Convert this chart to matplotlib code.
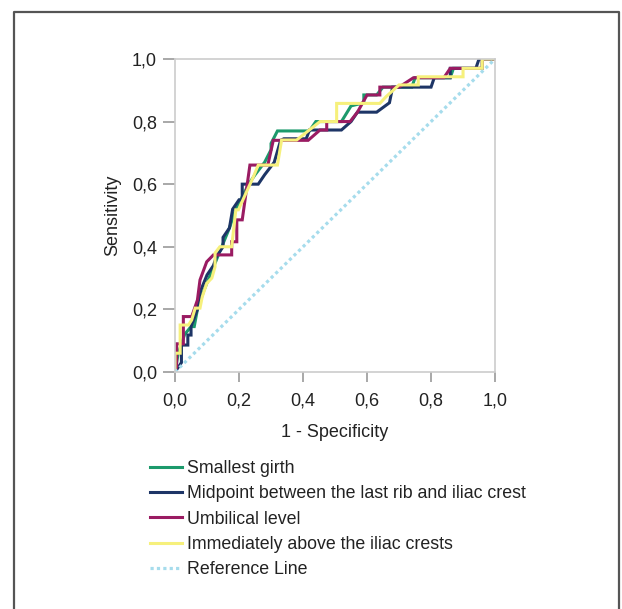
import matplotlib
import matplotlib.pyplot as plt
from matplotlib.lines import Line2D

matplotlib.use('Agg')

plt.rcParams['font.family'] = ['Liberation Sans', 'DejaVu Sans']

# ROC curves (1 - specificity, sensitivity)
girth_fpr = [0, 0.01, 0.02, 0.03, 0.05, 0.06, 0.07, 0.09, 0.11, 0.13, 0.15, 0.17, 0.19,
             0.21, 0.23, 0.25, 0.28, 0.30, 0.30, 0.32, 0.42, 0.44, 0.52, 0.55, 0.59,
             0.59, 0.63, 0.65, 0.74, 0.75, 0.86, 0.87, 0.96, 0.96, 1.0]
girth_tpr = [0, 0.06, 0.09, 0.12, 0.145, 0.145, 0.20, 0.26, 0.31, 0.36, 0.41, 0.46, 0.52,
             0.56, 0.60, 0.63, 0.67, 0.71, 0.73, 0.77, 0.77, 0.80, 0.80, 0.85, 0.86,
             0.885, 0.885, 0.91, 0.91, 0.94, 0.94, 0.97, 0.97, 1.0, 1.0]

mid_fpr = [0, 0.02, 0.02, 0.04, 0.04, 0.05, 0.05, 0.07, 0.08, 0.10, 0.12, 0.13, 0.15,
           0.15, 0.17, 0.18, 0.20, 0.21, 0.21, 0.26, 0.28, 0.31, 0.33, 0.34, 0.41,
           0.42, 0.52, 0.55, 0.57, 0.63, 0.67, 0.68, 0.80, 0.81, 0.86, 0.86, 0.94,
           0.95, 1.0]
mid_tpr = [0, 0.03, 0.086, 0.086, 0.118, 0.118, 0.145, 0.20, 0.26, 0.31, 0.34, 0.37, 0.40,
           0.43, 0.46, 0.52, 0.55, 0.55, 0.60, 0.60, 0.63, 0.67, 0.74, 0.745, 0.745,
           0.773, 0.773, 0.80, 0.83, 0.83, 0.86, 0.91, 0.91, 0.94, 0.94, 0.97, 0.97,
           1.0, 1.0]

umb_fpr = [0, 0.005, 0.005, 0.026, 0.026, 0.052, 0.06, 0.07, 0.078, 0.099, 0.12, 0.177,
           0.177, 0.193, 0.193, 0.21, 0.234, 0.29, 0.307, 0.416, 0.453, 0.474, 0.474,
           0.547, 0.57, 0.60, 0.64, 0.64, 0.70, 0.745, 0.84, 0.86, 0.96, 0.96, 1.0]
umb_tpr = [0, 0.017, 0.09, 0.09, 0.177, 0.177, 0.20, 0.23, 0.294, 0.352, 0.374, 0.374,
           0.416, 0.416, 0.486, 0.486, 0.661, 0.661, 0.74, 0.74, 0.773, 0.773, 0.80,
           0.80, 0.83, 0.885, 0.885, 0.91, 0.91, 0.94, 0.94, 0.97, 0.97, 1.0, 1.0]

iliac_fpr = [0, 0, 0.016, 0.016, 0.042, 0.052, 0.063, 0.078, 0.085, 0.099, 0.115, 0.125,
             0.125, 0.14, 0.177, 0.19, 0.198, 0.245, 0.26, 0.32, 0.333, 0.38, 0.453,
             0.505, 0.505, 0.64, 0.66, 0.70, 0.76, 0.76, 0.90, 0.90, 0.96, 0.96, 1.0]
iliac_tpr = [0, 0.06, 0.06, 0.15, 0.15, 0.166, 0.204, 0.204, 0.24, 0.283, 0.30, 0.336,
             0.38, 0.40, 0.40, 0.518, 0.518, 0.624, 0.661, 0.661, 0.741, 0.741, 0.80,
             0.80, 0.858, 0.858, 0.88, 0.917, 0.917, 0.943, 0.943, 0.97, 0.97, 1.0, 1.0]

labels = [
    'Smallest girth',
    'Midpoint between the last rib and iliac crest',
    'Umbilical level',
    'Immediately above the iliac crests',
    'Reference Line',
]
colors = ['#1c9a6c', '#1d3566', '#9a1b62', '#f6f07c', '#a6dcec']
ticks = [0.0, 0.2, 0.4, 0.6, 0.8, 1.0]
tick_labels = ['0,0', '0,2', '0,4', '0,6', '0,8', '1,0']

fig = plt.figure(figsize=(6.22, 6.09), dpi=100)
ax = fig.add_axes([0.2814, 0.3892, 0.5145, 0.514])

curves = [(girth_fpr, girth_tpr), (mid_fpr, mid_tpr), (umb_fpr, umb_tpr),
          (iliac_fpr, iliac_tpr)]
for (fpr, tpr), color, label in zip(curves, colors[:4], labels[:4]):
    ax.plot(fpr, tpr, color=color, lw=2.2, label=label, solid_joinstyle='miter')
ax.plot([0, 1], [0, 1], color=colors[4], lw=2.3, ls=(0, (1, 1)), label=labels[4])

ax.set_xlim(0, 1)
ax.set_ylim(0, 1)
ax.set_xticks(ticks)
ax.set_yticks(ticks)
ax.set_xticklabels(tick_labels)
ax.set_yticklabels(tick_labels)
for s in ax.spines.values():
    s.set_color('#cccccc')
    s.set_linewidth(1.2)
ax.tick_params(axis='both', colors='#999999', labelcolor='#222222', labelsize=13,
               width=1.2)
ax.tick_params(axis='x', length=7, pad=8)
ax.tick_params(axis='y', length=9, pad=4)
ax.set_xlabel('1 - Specificity', fontsize=13, color='#222222', labelpad=10)
ax.set_ylabel('Sensitivity', fontsize=13, color='#222222', labelpad=8)

handles, _ = ax.get_legend_handles_labels()
fig.legend(handles, labels, loc='upper left', bbox_to_anchor=(0.241, 0.245),
           frameon=False, fontsize=12.8, handlelength=1.8, handletextpad=0.3,
           labelspacing=0.47, borderaxespad=0, borderpad=0,
           labelcolor='#222222')

# outer frame, open at the bottom edge
x0, x1, y1 = 14 / 622, 619 / 622, 1 - 12 / 609
fig.add_artist(Line2D([x0, x0, x1, x1], [-0.01, y1, y1, -0.01],
                      transform=fig.transFigure, color='#555555', lw=1.6))

fig.savefig('out.png', dpi=100)
